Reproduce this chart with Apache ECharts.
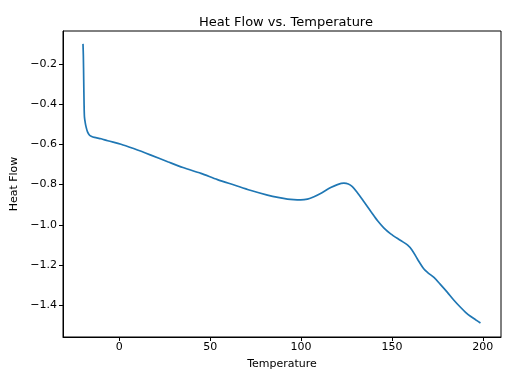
<!DOCTYPE html>
<html>
<head>
<meta charset="utf-8">
<script src="https://cdn.jsdelivr.net/npm/echarts@6/dist/echarts.min.js"></script>
<style>html,body{margin:0;padding:0;background:#fff;}#c{width:512px;height:384px;}</style>
</head>
<body>
<div id="c"></div>
<script>
var temperature = [-20, -19.8, -19.6, -19.4, -19.2, -18.8, -18.3, -17.5, -16.5, -15.5, -13.7, -10, -6.4, 0.9, 8.2, 17, 26.6, 35, 44.9, 54, 63.2, 72, 81.5, 88, 92.5, 96, 99.8, 103.5, 107.1, 111.5, 116.3, 120, 123.6, 126, 128.2, 131, 134.6, 138.5, 142.1, 145.5, 149.3, 154.8, 158.5, 161, 164, 167.6, 170, 173.1, 176.5, 180.4, 184.1, 187.7, 190.5, 193.2, 196, 198.7];
var heatFlow = [-0.100, -0.16, -0.28, -0.40, -0.463, -0.49, -0.513, -0.538, -0.553, -0.559, -0.565, -0.572, -0.582, -0.599, -0.622, -0.652, -0.686, -0.715, -0.744, -0.775, -0.802, -0.828, -0.852, -0.865, -0.872, -0.875, -0.876, -0.872, -0.860, -0.840, -0.815, -0.800, -0.793, -0.797, -0.810, -0.840, -0.885, -0.935, -0.980, -1.015, -1.045, -1.078, -1.100, -1.125, -1.170, -1.220, -1.240, -1.262, -1.295, -1.335, -1.375, -1.410, -1.435, -1.455, -1.472, -1.488];
var xTicks = [0, 50, 100, 150, 200];
var yTicks = [-1.4, -1.2, -1.0, -0.8, -0.6, -0.4, -0.2];

var data = temperature.map(function (t, i) { return [t, heatFlow[i]]; });
var font = 'DejaVu Sans';
var chart = echarts.init(document.getElementById('c'), null, {renderer: 'canvas'});
chart.setOption({
  animation: false,
  backgroundColor: '#ffffff',
  title: {
    text: 'Heat Flow vs. Temperature',
    left: 281, top: 11, textAlign: 'center',
    textStyle: {fontFamily: font, fontSize: 13, fontWeight: 'normal', color: '#000'}
  },
  grid: {left: 63, right: 11, top: 31, bottom: 47, show: true, borderColor: '#000', borderWidth: 1, backgroundColor: 'transparent'},
  xAxis: {
    type: 'value', min: -31, max: 210,
    name: 'Temperature', nameLocation: 'middle', nameGap: 22,
    nameTextStyle: {fontFamily: font, fontSize: 11, color: '#000'},
    axisLine: {show: true, onZero: false, lineStyle: {color: '#000', width: 1}},
    axisTick: {show: true, length: 4, lineStyle: {color: '#000'}, customValues: xTicks},
    axisLabel: {fontFamily: font, fontSize: 11, color: '#000', margin: 5, customValues: xTicks},
    splitLine: {show: false}
  },
  yAxis: {
    type: 'value', min: -1.558, max: -0.036,
    name: 'Heat Flow', nameLocation: 'middle', nameGap: 37, nameRotate: 90,
    nameTextStyle: {fontFamily: font, fontSize: 11, color: '#000'},
    axisLine: {show: true, onZero: false, lineStyle: {color: '#000', width: 1}},
    axisTick: {show: true, length: 4, lineStyle: {color: '#000'}, customValues: yTicks},
    axisLabel: {fontFamily: font, fontSize: 11, color: '#000', margin: 6, customValues: yTicks,
      formatter: function (v) { return (v < 0 ? '\u2212' : '') + Math.abs(v).toFixed(1); }},
    splitLine: {show: false}
  },
  series: [{
    type: 'line', data: data, showSymbol: false, smooth: 0.3,
    lineStyle: {color: '#1f77b4', width: 1.7},
    itemStyle: {color: '#1f77b4'}
  }]
});
</script>
</body>
</html>
